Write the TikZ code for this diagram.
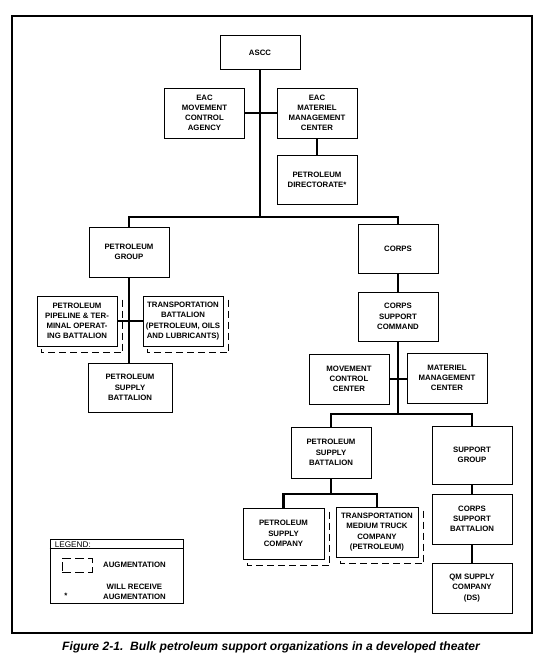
\documentclass[tikz,border=0pt]{standalone}
\usepackage{fontspec}
\setmainfont{Liberation Sans}
\usepackage{tikz}
\usetikzlibrary{arrows.meta}

\newcommand{\boxfont}{\bfseries\fontsize{7.8}{10.2}\selectfont}
\newcommand{\augment}[1]{\draw[augline] ([shift={(5,4)}]#1.north east) -- ([shift={(5,6)}]#1.south east) -- ([shift={(5,6)}]#1.south west) -- ++(0,-4);}

\begin{document}
\begin{tikzpicture}[x=1pt,y=-1pt,every node/.style={font=\boxfont,align=center},box/.style={draw=black,line width=1pt,fill=white,inner sep=2pt,minimum width=80pt,minimum height=50pt},link/.style={line width=2.2pt},augline/.style={line width=0.9pt,dash pattern=on 7pt off 4pt}]
\useasboundingbox (0,0) rectangle (550,669);
\draw[line width=2pt] (12,16) rectangle (532,633);

\node[box,minimum height=34pt] (ascc) at (260,53) {ASCC};
\node[box] (eacmca) at (204.5,113) {EAC\\MOVEMENT\\CONTROL\\AGENCY};
\node[box] (eacmmc) at (317,113) {EAC\\MATERIEL\\MANAGEMENT\\CENTER};
\node[box,minimum height=49pt] (petdir) at (317,179.5) {PETROLEUM\\DIRECTORATE*};

\node[box] (petgroup) at (129,252) {PETROLEUM\\GROUP};
\node[box,minimum height=49pt] (corps) at (398,248.5) {CORPS};

\node[box] (pipeline) at (77,321) {PETROLEUM\\PIPELINE \& TER-\\MINAL OPERAT-\\ING BATTALION};
\node[box] (transbn) at (183,321) {TRANSPORTATION\\BATTALION\\(PETROLEUM, OILS\\AND LUBRICANTS)};
\node[box,minimum width=84pt,minimum height=49pt] (psbleft) at (130,387.5) {PETROLEUM\\SUPPLY\\BATTALION};

\node[box,minimum height=49pt] (corpssc) at (398,316.5) {CORPS\\SUPPORT\\COMMAND};
\node[box] (movecc) at (349,379) {MOVEMENT\\CONTROL\\CENTER};
\node[box] (matmc) at (447,378) {MATERIEL\\MANAGEMENT\\CENTER};

\node[box,minimum height=51pt] (psbright) at (331,452.5) {PETROLEUM\\SUPPLY\\BATTALION};
\node[box,minimum height=58pt] (supgroup) at (472,455) {SUPPORT\\GROUP};
\node[box,minimum width=81pt,minimum height=51pt] (psc) at (283.5,533.5) {PETROLEUM\\SUPPLY\\COMPANY};
\node[box,minimum width=82pt] (tmtc) at (377,532) {TRANSPORTATION\\MEDIUM TRUCK\\COMPANY\\(PETROLEUM)};
\node[box] (corpssb) at (472,519) {CORPS\\SUPPORT\\BATTALION};
\node[box] (qmsc) at (472,588) {QM SUPPLY\\COMPANY\\(DS)};

\coordinate (bustop) at (260,217);
\coordinate (buscorps) at (398,414);
\coordinate (buspsb) at (331,494);

\draw[link] (ascc.south) -- (bustop);
\draw[link] (petgroup.north) |- (bustop) -| (corps.north);
\draw[link] (eacmca.east) -- (eacmmc.west);
\draw[link] (eacmmc.south) -- (petdir.north);
\draw[link] (petgroup.south) -- (psbleft.north -| petgroup.south);
\draw[link] (pipeline.east) -- (transbn.west);
\draw[link] (corps.south) -- (corpssc.north);
\draw[link] (corpssc.south) -- (buscorps);
\draw[link] (movecc.east) -- (movecc.east -| matmc.west);
\draw[link] (psbright.north) |- (buscorps) -| (supgroup.north);
\draw[link] (psbright.south) -- (buspsb);
\draw[link] (psc.north) |- (buspsb) -| (tmtc.north);
\draw[link] (supgroup.south) -- (corpssb.north);
\draw[link] (corpssb.south) -- (qmsc.north);

\augment{pipeline}
\augment{transbn}
\augment{psc}
\augment{tmtc}

\node[draw=black,line width=0.8pt,minimum width=133pt,minimum height=64pt] (legend) at (116.5,571.5) {};
\node[font=\fontsize{8.2}{9}\selectfont,anchor=north west,inner sep=1pt] (legendhead) at ([shift={(4,1)}]legend.north west) {LEGEND:};
\draw[line width=0.6pt] (legend.west |- legendhead.south) -- (legend.east |- legendhead.south);
\node[draw=black,line width=0.9pt,dash pattern=on 9pt off 4pt,minimum width=30pt,minimum height=14pt,inner sep=0pt] (legendaug) at (77,565) {};
\node[anchor=west,inner sep=0pt] (legendaugtext) at (103,565) {AUGMENTATION};
\node[anchor=west,inner sep=0pt] (legendwill) at (103,591.5) {WILL RECEIVE\\AUGMENTATION};
\node[inner sep=0pt] (legendstar) at (66,596) {*};

\node[font=\bfseries\itshape\fontsize{12.1}{14}\selectfont] (caption) at (271,647) {Figure 2-1.\ \ Bulk petroleum support organizations in a developed theater};
\end{tikzpicture}
\end{document}
